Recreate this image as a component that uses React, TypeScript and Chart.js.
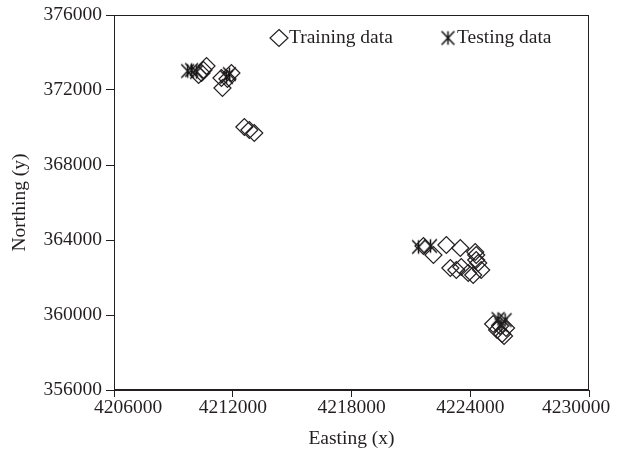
import React, { useEffect, useRef } from "react";
import { Chart, registerables } from "chart.js";

Chart.register(...registerables);

const trainX = [4210425, 4210525, 4210676, 4210274, 4211430, 4211480, 4211933, 4211732, 4212587, 4212838, 4213089,
  4221637, 4222140, 4222794, 4223497, 4222995, 4223296, 4223547, 4223899, 4224251, 4224301, 4224301, 4224402, 4224553, 4224150,
  4225157, 4225358, 4225609, 4225810, 4225508, 4225709];
const trainY = [372907, 373067, 373280, 372800, 372640, 372107, 372907, 372587, 370027, 369867, 369707,
  363680, 363200, 363733, 363573, 362507, 362400, 362560, 362240, 363360, 363200, 362933, 362773, 362400, 362133,
  359520, 359200, 358987, 359307, 359413, 358880];
const testX = [4209721, 4209922, 4210173, 4211681, 4211832, 4221386, 4221989, 4225408, 4225760, 4225559];
const testY = [373013, 373067, 372960, 372693, 372853, 363627, 363680, 359787, 359733, 359467];

const xTicks = [4206000, 4212000, 4218000, 4224000, 4230000];
const yTicks = [356000, 360000, 364000, 368000, 372000, 376000];

const seriesNames = ["Training data", "Testing data"];
const FONT = "'Liberation Serif', 'DejaVu Serif', serif";
const FS = 19.5;
const INK = "#231f20";

function makeStar(size: number): HTMLCanvasElement {
  const c = document.createElement("canvas");
  c.width = size;
  c.height = size;
  const ctx = c.getContext("2d")!;
  ctx.strokeStyle = "#111";
  ctx.lineWidth = 1.5;
  const h = size / 2;
  const r = h - 1;
  ctx.beginPath();
  ctx.moveTo(h - r * 0.75, h - r * 0.8);
  ctx.lineTo(h + r * 0.75, h + r * 0.8);
  ctx.moveTo(h + r * 0.75, h - r * 0.8);
  ctx.lineTo(h - r * 0.75, h + r * 0.8);
  ctx.moveTo(h, h - r * 0.8);
  ctx.lineTo(h, h + r * 0.8);
  ctx.stroke();
  return c;
}

export default function App() {
  const ref = useRef<HTMLCanvasElement | null>(null);

  useEffect(() => {
    const star = makeStar(19);
    const frame = {
      id: "frameLegend",
      afterDraw(chart: any) {
        const { ctx, chartArea } = chart;
        ctx.save();
        ctx.strokeStyle = INK;
        ctx.lineWidth = 1;
        ctx.strokeRect(chartArea.left + 0.5, chartArea.top + 0.5, chartArea.right - chartArea.left - 1, chartArea.bottom - chartArea.top - 1);
        // x tick labels (end labels nudged inward, as in the original)
        const xs = chart.scales.x;
        ctx.fillStyle = INK;
        ctx.font = `${FS}px ${FONT}`;
        ctx.textBaseline = "middle";
        ctx.textAlign = "center";
        xTicks.forEach((v, i) => {
          let px = xs.getPixelForValue(v);
          if (i === 0) px += 14;
          if (i === xTicks.length - 1) px -= 13;
          ctx.fillText(String(v), px, chartArea.bottom + 18);
        });
        // legend
        const ly = 38;
        ctx.textAlign = "left";
        ctx.beginPath();
        ctx.moveTo(279, ly - 8.5);
        ctx.lineTo(288, ly);
        ctx.lineTo(279, ly + 8.5);
        ctx.lineTo(270, ly);
        ctx.closePath();
        ctx.lineWidth = 1.2;
        ctx.stroke();
        ctx.fillText(seriesNames[0], 289, ly);
        ctx.drawImage(star, 448 - 9.5, ly - 9.5);
        ctx.fillText(seriesNames[1], 457, ly);
        ctx.restore();
      },
    };
    const chart = new Chart(ref.current!, {
      type: "scatter",
      data: {
        datasets: [
          {
            label: seriesNames[0],
            data: trainX.map((x, i) => ({ x, y: trainY[i] })),
            pointStyle: "rectRot",
            radius: 8.5,
            borderColor: INK,
            backgroundColor: "rgba(0,0,0,0)",
            borderWidth: 1.2,
          },
          {
            label: seriesNames[1],
            data: testX.map((x, i) => ({ x, y: testY[i] })),
            pointStyle: star as any,
            radius: 9,
            borderColor: INK,
            backgroundColor: INK,
          },
        ],
      },
      options: {
        animation: false,
        responsive: false,
        maintainAspectRatio: false,
        layout: { padding: { top: 15, right: 29, left: 0, bottom: 0 } },
        plugins: { legend: { display: false }, tooltip: { enabled: false } },
        scales: {
          x: {
            type: "linear",
            min: 4206000,
            max: 4230000,
            afterBuildTicks: (s: any) => { s.ticks = xTicks.map((v) => ({ value: v })); },
            afterFit: (s: any) => { s.height = 67; s.paddingLeft = 0; s.paddingRight = 0; },
            grid: { drawOnChartArea: false, drawTicks: true, tickLength: 7, color: INK },
            border: { display: true, color: INK },
            ticks: { display: false },
            title: { display: true, text: "Easting (x)", color: INK, font: { family: FONT, size: FS }, padding: { top: 0, bottom: 6 } },
          },
          y: {
            type: "linear",
            min: 356000,
            max: 376000,
            afterBuildTicks: (s: any) => { s.ticks = yTicks.map((v) => ({ value: v })); },
            afterFit: (s: any) => { s.width = 114; s.paddingTop = 0; s.paddingBottom = 0; },
            grid: { drawOnChartArea: false, drawTicks: true, tickLength: 8, color: INK },
            border: { display: true, color: INK },
            ticks: { color: INK, font: { family: FONT, size: FS }, padding: 4, callback: (v: any) => String(v) },
            title: { display: true, text: "Northing (y)", color: INK, font: { family: FONT, size: FS }, padding: { top: 8, bottom: 4 } },
          },
        },
      },
      plugins: [frame],
    });
    return () => chart.destroy();
  }, []);

  return (
    <div style={{ position: "fixed", left: 0, top: 0, width: 618, height: 457, background: "#fff" }}>
      <canvas ref={ref} width={618} height={457} style={{ width: 618, height: 457 }} />
    </div>
  );
}
